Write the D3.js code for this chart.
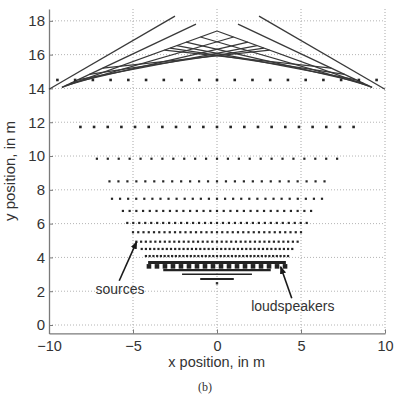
<!DOCTYPE html>
<html><head><meta charset="utf-8">
<script src="https://cdn.jsdelivr.net/npm/d3@7"></script>
<style>body{margin:0;background:#fff;} svg{display:block;font-family:"Liberation Sans",Arial,sans-serif;}</style>
</head><body><svg id="c" width="402" height="398"></svg>
<script>
// ---- data ----
const xTicks = [-10, -5, 0, 5, 10];
const yTicks = [0, 2, 4, 6, 8, 10, 12, 14, 16, 18];
// source rows: y, half width, number of sources
const sourceRowY     = [14.5, 11.72, 9.84, 8.5, 7.47, 6.75, 6.04, 5.49, 4.93, 4.5, 4.08];
const sourceRowHalf  = [9.5, 8.13, 7.15, 6.4, 6.25, 5.6, 5.34, 5.0, 4.8, 4.48, 4.23];
const sourceRowCount = [19, 21, 23, 25, 27, 29, 31, 33, 35, 37, 39];
// straight lines in the top part (left side; right side is mirrored)
const topLineStartX = [-10, -9.23];
const topLineStartY = [13.95, 14.06];
const topLineEndX   = [-2.5, -1.25];
const topLineEndY   = [18.28, 17.81];
// lattice lines (left family; right family mirrored): start point and height at x = 0
const latticeStartX = [-9.23, -9.0, -8.7, -8.3, -7.6, -6.8];
const latticeStartY = [14.06, 14.17, 14.31, 14.5, 14.83, 15.2];
const latticeCrossY = [17.4, 16.76, 16.31, 16.08, 15.97, 15.93];
// loudspeaker bars
const speakerBarY    = [3.7, 3.25, 3.0, 2.72];
const speakerBarHalf = [4.1, 3.2, 2.08, 1.0];
const speakerSquareY = 3.47, speakerSquareHalf = 4.05, speakerSquareCount = 18;
const speakerDot = [0, 2.47];
// annotations
const sourcesArrow = [[-5.82, 2.62], [-4.78, 4.93]];
const speakersArrow = [[4.45, 1.58], [3.79, 3.45]];
const sourcesLabel = {text: "sources", x: -5.77, y: 1.83};
const speakersLabel = {text: "loudspeakers", x: 4.51, y: 0.85};

// ---- scales ----
const svg = d3.select("#c");
const x = d3.scaleLinear([-10, 10], [49, 385]);
const y = d3.scaleLinear([-0.5, 18.7], [333.45, 9]);
const ink = "#262626";

svg.append("defs").append("marker").attr("id", "ah")
  .attr("viewBox", "0 0 10 10").attr("refX", 9).attr("refY", 5)
  .attr("markerWidth", 5).attr("markerHeight", 5).attr("orient", "auto")
  .append("path").attr("d", "M0,1 L10,5 L0,9 Z").attr("fill", "#1a1a1a");

// grid
const g = svg.append("g");
g.selectAll(".gx").data(xTicks.filter(d => d > -10)).join("line")
  .attr("x1", d => x(d)).attr("x2", d => x(d)).attr("y1", y(18.7)).attr("y2", y(-0.5))
  .attr("stroke", "#a8a8a8").attr("stroke-width", 1).attr("stroke-dasharray", "1,2");
g.selectAll(".gy").data(yTicks).join("line")
  .attr("x1", x(-10)).attr("x2", x(10)).attr("y1", d => y(d)).attr("y2", d => y(d))
  .attr("stroke", "#b4b4b4").attr("stroke-width", 1).attr("stroke-dasharray", "1,2");

// axes
const fmt = d => d3.format("d")(d).replace("-", "\u2212");
const ax = svg.append("g").attr("transform", `translate(0,${y(-0.5)})`)
  .call(d3.axisBottom(x).tickValues(xTicks).tickSizeInner(-4).tickSizeOuter(0).tickPadding(7).tickFormat(fmt));
const ay = svg.append("g").attr("transform", `translate(${x(-10)},0)`)
  .call(d3.axisLeft(y).tickValues(yTicks).tickSizeInner(-4).tickSizeOuter(0).tickPadding(4).tickFormat(fmt));
[ax, ay].forEach(a => {
  a.select(".domain").attr("stroke", "#7a7a7a").attr("stroke-width", 1.3);
  a.selectAll(".tick line").attr("stroke", "#7a7a7a");
  a.selectAll("text").attr("font-size", 15).attr("fill", "#333").attr("font-family", "Liberation Sans, Arial, sans-serif");
});
ax.selectAll("text").attr("font-size", 14.5);

// top straight lines
const topLines = [];
topLineStartX.forEach((_, i) => {
  topLines.push([[topLineStartX[i], topLineStartY[i]], [topLineEndX[i], topLineEndY[i]]]);
  topLines.push([[-topLineStartX[i], topLineStartY[i]], [-topLineEndX[i], topLineEndY[i]]]);
});
const line = d3.line().x(d => x(d[0])).y(d => y(d[1]));
svg.append("g").selectAll("path").data(topLines).join("path")
  .attr("d", line).attr("fill", "none").attr("stroke", "#3a3a3a").attr("stroke-width", 1.3);

// lattice: each line runs from its start through (0, c) until it meets the mirrored first line
const apex = latticeCrossY[0];
const s1 = (apex - latticeStartY[0]) / (0 - latticeStartX[0]);
const lattice = [];
latticeCrossY.forEach((c, i) => {
  const sx = latticeStartX[i], sy = latticeStartY[i];
  const s = (c - sy) / (0 - sx);
  const ex = i === 0 ? 0 : (apex - c) / (s + s1);
  const ey = c + s * ex;
  lattice.push([[sx, sy], [ex, ey]]);
  lattice.push([[-sx, sy], [-ex, ey]]);
});
svg.append("g").selectAll("path").data(lattice).join("path")
  .attr("d", line).attr("fill", "none").attr("stroke", "#383838").attr("stroke-width", 1.25);

// sources
const sources = [];
sourceRowY.forEach((ry, i) => {
  const n = sourceRowCount[i], h = sourceRowHalf[i];
  d3.range(n).forEach(k => sources.push({x: -h + 2 * h * k / (n - 1), y: ry, big: i < 2}));
});
svg.append("g").selectAll("rect").data(sources).join("rect")
  .attr("x", d => x(d.x) - (d.big ? 1.3 : 1.1)).attr("y", d => y(d.y) - (d.big ? 1.3 : 1.1))
  .attr("width", d => d.big ? 2.6 : 2.2).attr("height", d => d.big ? 2.6 : 2.2).attr("fill", ink);

// loudspeakers
const barW = [3, 2.4, 1.6, 2];
svg.append("g").selectAll("line").data(speakerBarY).join("line")
  .attr("x1", (d, i) => x(-speakerBarHalf[i])).attr("x2", (d, i) => x(speakerBarHalf[i]))
  .attr("y1", d => y(d)).attr("y2", d => y(d))
  .attr("stroke", "#222").attr("stroke-width", (d, i) => barW[i]);
const squares = d3.range(speakerSquareCount).map(k => -speakerSquareHalf + 2 * speakerSquareHalf * k / (speakerSquareCount - 1));
svg.append("g").selectAll("rect").data(squares).join("rect")
  .attr("x", d => x(d) - 2.3).attr("y", y(speakerSquareY) - 2.3).attr("width", 4.6).attr("height", 4.6)
  .attr("fill", "#222");
svg.append("rect").attr("x", x(speakerDot[0]) - 1.2).attr("y", y(speakerDot[1]) - 1.2)
  .attr("width", 2.4).attr("height", 2.4).attr("fill", "#333");

// arrows + labels
[sourcesArrow, speakersArrow].forEach(a => {
  svg.append("line").attr("x1", x(a[0][0])).attr("y1", y(a[0][1])).attr("x2", x(a[1][0])).attr("y2", y(a[1][1]))
    .attr("stroke", "#1a1a1a").attr("stroke-width", 1.6).attr("marker-end", "url(#ah)");
});
[sourcesLabel, speakersLabel].forEach(l => {
  svg.append("text").attr("x", x(l.x)).attr("y", y(l.y)).attr("text-anchor", "middle")
    .attr("font-size", 14).attr("fill", "#333").text(l.text);
});

// axis titles
svg.append("text").attr("x", 216.7).attr("y", 366.5).attr("text-anchor", "middle")
  .attr("font-size", 14.5).attr("fill", "#333").text("x position, in m");
svg.append("text").attr("transform", "translate(15,171) rotate(-90)").attr("text-anchor", "middle")
  .attr("font-size", 15).attr("fill", "#333").text("y position, in m");
svg.append("text").attr("x", 205).attr("y", 391).attr("text-anchor", "middle")
  .attr("font-size", 12).attr("fill", "#333").attr("font-family", "Liberation Serif, serif").text("(b)");
</script></body></html>
